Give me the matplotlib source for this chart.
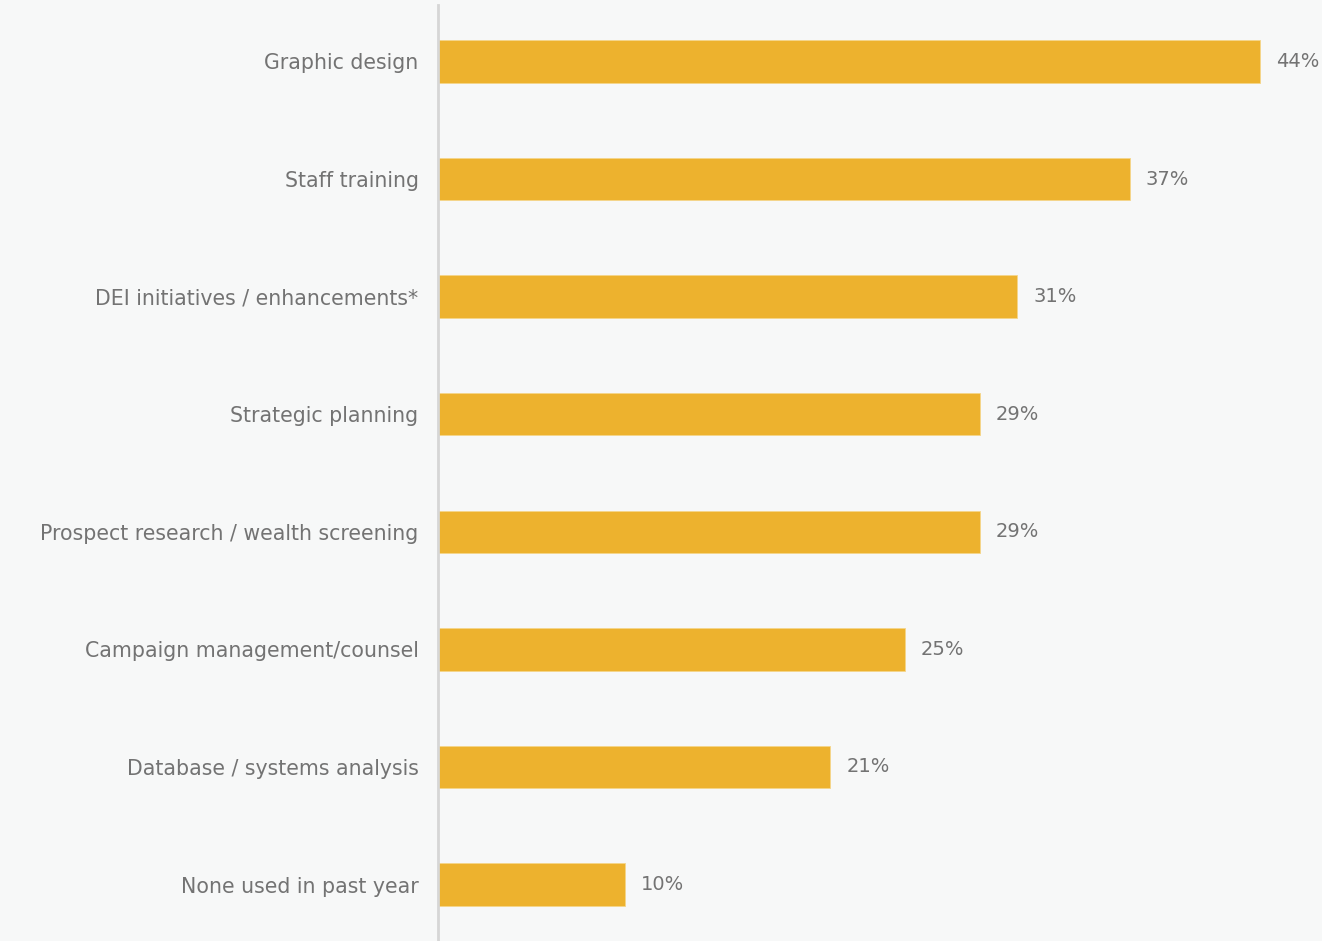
import matplotlib
matplotlib.use("Agg")
import matplotlib.pyplot as plt

categories = [
    "Graphic design",
    "Staff training",
    "DEI initiatives / enhancements*",
    "Strategic planning",
    "Prospect research / wealth screening",
    "Campaign management/counsel",
    "Database / systems analysis",
    "None used in past year",
]
values = [44, 37, 31, 29, 29, 25, 21, 10]
value_labels = ["44%", "37%", "31%", "29%", "29%", "25%", "21%", "10%"]

BG = "#f7f8f8"
BAR = "#edb22e"
TXT = "#737373"

fig = plt.figure(figsize=(13.22, 9.41), dpi=100, facecolor=BG)
ax = fig.add_axes([438 / 1322, 0, 884 / 1322, 936 / 941], facecolor=BG)

y = list(range(len(categories)))
ax.barh(y, values, height=0.36, color=BAR, edgecolor="#f5d68a", linewidth=0.6)

# value labels just past the bar ends
for yi, v, lab in zip(y, values, value_labels):
    ax.text(v + 0.85, yi, lab, va="center", ha="left", fontsize=14,
            color=TXT, family="DejaVu Sans")

ax.set_yticks(y)
ax.set_yticklabels(categories, fontsize=14.8, color=TXT, family="DejaVu Sans")
ax.tick_params(axis="y", length=0, pad=14)
ax.set_xticks([])
ax.set_xlim(0, 47.3)
ax.set_ylim(7.48, -0.48)

for s in ("top", "right", "bottom"):
    ax.spines[s].set_visible(False)
ax.spines["left"].set_color("#d6d6d6")
ax.spines["left"].set_linewidth(2)

fig.savefig("out.png", dpi=100, facecolor=BG)
